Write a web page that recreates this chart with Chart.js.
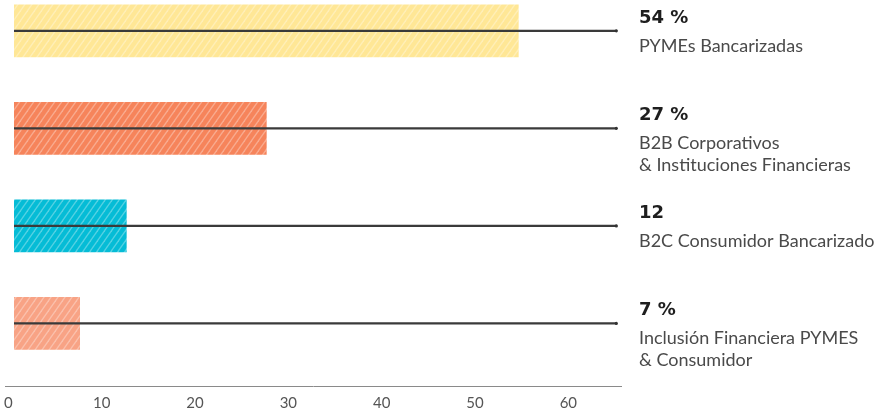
<!DOCTYPE html>
<html lang="es">
<head>
<meta charset="utf-8">
<script src="https://cdn.jsdelivr.net/npm/chart.js@4/dist/chart.umd.min.js"></script>
<style>
  html, body { margin: 0; padding: 0; background: #fff; }
  #wrap { position: relative; width: 886px; height: 409px; }
</style>
</head>
<body>
<div id="wrap"><canvas id="myChart"></canvas></div>
<script>
// Segmentos y su peso
const segmentos = [
    ['PYMEs Bancarizadas'],
    ['B2B Corporativos', '& Instituciones Financieras'],
    ['B2C Consumidor Bancarizado'],
    ['Inclusión Financiera PYMES', '& Consumidor']
];
const valores = [54, 27, 12, 7];
const etiquetasValor = ['54 %', '27 %', '12', '7 %'];
const finLinea = 64.5;
const ticksX = [0, 10, 20, 30, 40, 50, 60];

// Colores de cada barra
const colores = ['#FFE796', '#F6845B', '#05BCD6', '#F8A385'];

// Relleno rayado en diagonal
function rayado(color) {
    const w = 7, h = 10;
    const c = document.createElement('canvas');
    c.width = w; c.height = h;
    const g = c.getContext('2d');
    g.fillStyle = color;
    g.fillRect(0, 0, w, h);
    g.strokeStyle = 'rgba(255,255,255,0.32)';
    g.lineWidth = 1.3;
    for (let dx = -w; dx <= w; dx += w) {
        g.beginPath();
        g.moveTo(dx - w, 2 * h);
        g.lineTo(dx + 2 * w, -h);
        g.stroke();
    }
    return g.createPattern(c, 'repeat');
}

// Textos a la derecha de cada línea
const etiquetasDerecha = {
    id: 'etiquetasDerecha',
    afterDraw(chart) {
        const { ctx, chartArea, scales } = chart;
        const x = chartArea.right + 18;
        ctx.save();
        ctx.textAlign = 'left';
        ctx.textBaseline = 'middle';
        valores.forEach((v, i) => {
            const y = scales.y.getPixelForValue(i);
            ctx.fillStyle = '#1e1e1e';
            ctx.font = 'bold 18px "DejaVu Sans"';
            ctx.fillText(etiquetasValor[i], x, y - 13);
            ctx.fillStyle = '#4a4a4a';
            ctx.font = '18px Lato';
            segmentos[i].forEach((linea, j) => {
                ctx.fillText(linea, x, y + 15 + j * 22);
            });
        });
        ctx.restore();
    }
};

const ctx = document.getElementById('myChart').getContext('2d');
const myChart = new Chart(ctx, {
    type: 'bar',
    data: {
        datasets: [
            {
                type: 'scatter',
                data: valores.map((v, i) => ({ x: finLinea, y: i })),
                backgroundColor: '#333',
                borderColor: '#333',
                pointRadius: 1.6,
                pointHoverRadius: 0,
                borderWidth: 0,
                clip: false,
                order: 0
            },
            {
                data: valores.map((v, i) => ({ x: [0, finLinea], y: i })),
                backgroundColor: '#3a3a3a',
                barThickness: 1.4,
                grouped: false,
                order: 1
            },
            {
                data: valores.map((v, i) => ({ x: v, y: i })),
                backgroundColor: colores.map(rayado),
                barThickness: 52,
                grouped: false,
                order: 2
            }
        ]
    },
    options: {
        indexAxis: 'y',
        responsive: true,
        maintainAspectRatio: false,
        animation: false,
        layout: { padding: { left: 5, right: 265, top: 0, bottom: -11 } },
        plugins: {
            legend: { display: false },
            tooltip: { enabled: false }
        },
        scales: {
            x: {
                type: 'linear',
                position: 'bottom',
                min: -1,
                max: 65,
                grid: { display: false, drawTicks: false },
                border: { display: true, color: '#8a8a8a', width: 1 },
                afterBuildTicks: axis => { axis.ticks = ticksX.map(v => ({ value: v })); },
                ticks: {
                    color: '#555',
                    font: { family: 'Lato', size: 15 },
                    padding: 8,
                    labelOffset: -6
                }
            },
            y: {
                type: 'linear',
                reverse: true,
                offset: false,
                min: -0.30,
                max: 3.642,
                display: false
            }
        }
    },
    plugins: [etiquetasDerecha]
});
</script>
</body>
</html>
